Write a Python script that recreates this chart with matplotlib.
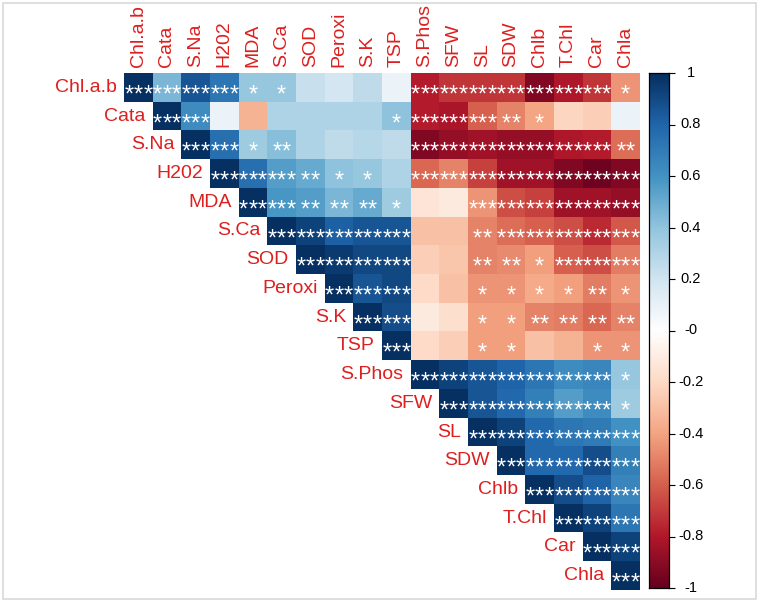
import numpy as np
import matplotlib.pyplot as plt
from matplotlib.colors import LinearSegmentedColormap
from matplotlib.patches import Rectangle

plt.rcParams['font.family'] = ['Liberation Sans', 'DejaVu Sans']

labels = ["Chl.a.b", "Cata", "S.Na", "H202", "MDA", "S.Ca", "SOD", "Peroxi", "S.K",
          "TSP", "S.Phos", "SFW", "SL", "SDW", "Chlb", "T.Chl", "Car", "Chla"]

# upper triangle rows (starting at the diagonal)
r_rows = [
    [1, 0.45, 0.85, 0.72, 0.38, 0.38, 0.22, 0.18, 0.25, 0.08, -0.78, -0.72, -0.72, -0.72, -0.92, -0.80, -0.72, -0.45],
    [1, 0.62, 0.08, -0.35, 0.30, 0.30, 0.30, 0.30, 0.40, -0.78, -0.82, -0.60, -0.50, -0.40, -0.22, -0.25, 0.08],
    [1, 0.75, 0.35, 0.42, 0.30, 0.25, 0.28, 0.25, -0.92, -0.88, -0.85, -0.88, -0.88, -0.80, -0.78, -0.55],
    [1, 0.75, 0.55, 0.50, 0.40, 0.38, 0.30, -0.58, -0.50, -0.68, -0.85, -0.85, -0.92, -0.98, -0.92],
    [1, 0.58, 0.55, 0.45, 0.50, 0.35, -0.15, -0.12, -0.45, -0.65, -0.68, -0.85, -0.85, -0.88],
    [1, 0.92, 0.82, 0.85, 0.85, -0.30, -0.30, -0.50, -0.55, -0.60, -0.65, -0.75, -0.62],
    [1, 0.95, 0.90, 0.90, -0.25, -0.28, -0.50, -0.48, -0.42, -0.60, -0.65, -0.52],
    [1, 0.85, 0.90, -0.20, -0.30, -0.45, -0.45, -0.38, -0.42, -0.52, -0.45],
    [1, 0.88, -0.12, -0.18, -0.42, -0.42, -0.50, -0.52, -0.58, -0.50],
    [1, -0.20, -0.25, -0.42, -0.42, -0.30, -0.35, -0.45, -0.45],
    [1, 0.92, 0.85, 0.80, 0.72, 0.62, 0.65, 0.38],
    [1, 0.85, 0.78, 0.68, 0.55, 0.62, 0.35],
    [1, 0.92, 0.78, 0.72, 0.70, 0.60],
    [1, 0.78, 0.78, 0.88, 0.68],
    [1, 0.88, 0.80, 0.65],
    [1, 0.92, 0.72],
    [1, 0.92],
    [1],
]

star_rows = [
    ["***", "***", "***", "***", "*", "*", "", "", "", "", "***", "***", "***", "***", "***", "***", "***", "*"],
    ["***", "***", "", "", "", "", "", "", "*", "***", "***", "***", "**", "*", "", "", ""],
    ["***", "***", "*", "**", "", "", "", "", "***", "***", "***", "***", "***", "***", "***", "**"],
    ["***", "***", "***", "**", "*", "*", "", "***", "***", "***", "***", "***", "***", "***", "***"],
    ["***", "***", "**", "**", "**", "*", "", "", "***", "***", "***", "***", "***", "***"],
    ["***", "***", "***", "***", "***", "", "", "**", "***", "***", "***", "***", "***"],
    ["***", "***", "***", "***", "", "", "**", "**", "*", "***", "***", "***"],
    ["***", "***", "***", "", "", "*", "*", "*", "*", "**", "*"],
    ["***", "***", "", "", "*", "*", "**", "**", "**", "**"],
    ["***", "", "", "*", "*", "", "", "*", "*"],
    ["***", "***", "***", "***", "***", "***", "***", "*"],
    ["***", "***", "***", "***", "***", "***", "*"],
    ["***", "***", "***", "***", "***", "***"],
    ["***", "***", "***", "***", "***"],
    ["***", "***", "***", "***"],
    ["***", "***", "***"],
    ["***", "***"],
    ["***"],
]

n = len(labels)
mat = np.full((n, n), np.nan)
for i in range(n):
    mat[i, i:] = r_rows[i]

cmap = LinearSegmentedColormap.from_list("corr", [
    "#67001F", "#B2182B", "#D6604D", "#F4A582", "#FDDBC7", "#FFFFFF",
    "#D1E5F0", "#92C5DE", "#4393C3", "#2166AC", "#053061"], N=200)
cmap.set_bad("white")

W, H = 762, 605
fig = plt.figure(figsize=(W / 100, H / 100), dpi=100)
fig.patches.append(Rectangle((3 / W, 1 - 599 / H), 753 / W, 596 / H, transform=fig.transFigure,
                             fill=False, edgecolor="#d9d9d9", lw=1.2))

ax = fig.add_axes([124 / W, 1 - 590 / H, 516 / W, 517 / H])
ax.imshow(np.ma.masked_invalid(mat), cmap=cmap, vmin=-1, vmax=1, aspect="auto",
          interpolation="nearest")
ax.set_xlim(-0.5, n - 0.5)
ax.set_ylim(n - 0.5, -0.5)
ax.axis("off")

red = "#dd1f1f"
step = 0.33
for i, name in enumerate(labels):
    ax.text(i - 0.75, i, name, ha="right", va="center", fontsize=14, color=red)
    ax.text(i, -0.7, name, ha="center", va="bottom", rotation=90, fontsize=14, color=red)
    for k, s in enumerate(star_rows[i]):
        m = len(s)
        for j in range(m):
            x = i + k + (j - (m - 1) / 2) * step
            ax.text(x, i + 0.49, "*", ha="center", va="baseline", fontsize=17,
                    color="white")

# colour bar
cax = fig.add_axes([649 / W, 1 - 588 / H, 20 / W, 515 / H])
grad = np.linspace(-1, 1, 200).reshape(-1, 1)
cax.imshow(grad, cmap=cmap, vmin=-1, vmax=1, aspect="auto", origin="lower",
           extent=[0, 1, -1, 1])
cax.set_xlim(0, 1)
cax.set_ylim(-1, 1)
cax.set_xticks([])
cax.yaxis.tick_right()
ticks = np.round(np.arange(-1, 1.01, 0.2), 1)
cax.set_yticks(ticks)
cax.set_yticklabels([])
cax.tick_params(axis="y", length=4, width=0.8)
for t in ticks:
    cax.text(2.1, t, f"{t:g}", ha="center", va="center", fontsize=10.5,
             transform=cax.get_yaxis_transform(), clip_on=False)
for sp in cax.spines.values():
    sp.set_linewidth(0.9)

fig.savefig("out.png", dpi=100)
